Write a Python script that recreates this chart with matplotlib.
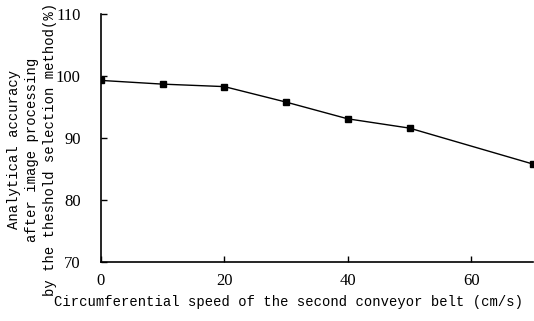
import matplotlib
matplotlib.use("Agg")
import matplotlib.pyplot as plt

speed = [0, 10, 20, 30, 40, 50, 70]
accuracy = [99.3, 98.7, 98.3, 95.8, 93.1, 91.6, 85.8]
x_ticks = [0, 20, 40, 60]
y_ticks = [70, 80, 90, 100, 110]

fig = plt.figure(figsize=(5.34, 3.21), dpi=100)
ax = fig.add_axes([0.189, 0.184, 0.809, 0.772])

ax.plot(speed, accuracy, color="black", lw=1.0, marker="s", ms=4.5,
        markerfacecolor="black", markeredgecolor="black")

ax.set_xlim(0, 70)
ax.set_ylim(70, 110)
ax.set_xticks(x_ticks)
ax.set_yticks(y_ticks)

for side in ("top", "right"):
    ax.spines[side].set_visible(False)
for side in ("left", "bottom"):
    ax.spines[side].set_linewidth(1.2)

ax.tick_params(direction="in", length=4, width=1, colors="black")
ax.tick_params(axis="y", pad=14.5)
ax.tick_params(axis="x", pad=8)
for lab in ax.get_xticklabels() + ax.get_yticklabels():
    lab.set_fontfamily("Liberation Serif")
    lab.set_fontsize(12)

fig.text(0.54, 0.06, "Circumferential speed of the second conveyor belt (cm/s)",
         ha="center", va="center", family="Liberation Mono", fontsize=10)
fig.text(0.06, 0.533,
         "Analytical accuracy\nafter image processing\nby the theshold selection method(%)",
         ha="center", va="center", rotation=90, multialignment="center",
         family="Liberation Mono", fontsize=10, linespacing=1.33)

fig.savefig("out.png", dpi=100)
